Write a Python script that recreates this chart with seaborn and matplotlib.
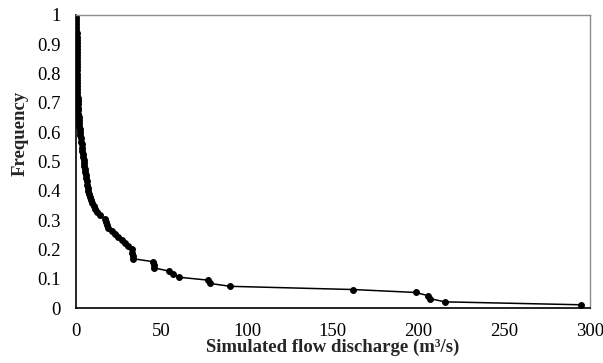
import numpy as np
import pandas as pd
import matplotlib
matplotlib.use("Agg")
import matplotlib.pyplot as plt
import seaborn as sns

# simulated discharge (m3/s), sorted high -> low
discharge = [294.8, 215.4, 206.7, 205.7, 198.3, 161.9, 89.9, 78.2, 77.2, 60.1,
             56.8, 54.3, 45.5, 45.3, 45.1, 33.5, 33.2, 32.8, 32.5, 30.5,
             28.5, 27.0, 24.5, 22.5, 21.0, 18.5, 18.0, 17.5, 16.9, 14.0,
             12.0, 11.0, 10.5, 9.5, 8.5, 8.0, 7.5, 7.2, 6.9, 6.6,
             6.3, 6.0, 5.8, 5.5, 5.2, 4.9, 4.6, 4.4, 4.2, 4.0,
             3.8, 3.6, 3.3, 3.1, 2.8, 2.6, 2.4, 2.2, 2.0, 1.8,
             1.65, 1.5, 1.35, 1.2, 1.1, 1.0, 0.95, 0.9, 0.85, 0.8,
             0.78, 0.76, 0.73, 0.70, 0.68, 0.65, 0.63, 0.60, 0.58, 0.55,
             0.53, 0.50, 0.48, 0.45, 0.43, 0.40, 0.38, 0.35, 0.33, 0.30,
             0.28, 0.25, 0.23, 0.20, 0.18]

# exceedance frequency
frequency = [0.011, 0.021, 0.032, 0.042, 0.053, 0.063, 0.074, 0.084, 0.095, 0.105,
             0.116, 0.126, 0.137, 0.147, 0.158, 0.168, 0.179, 0.189, 0.200, 0.211,
             0.221, 0.232, 0.242, 0.253, 0.263, 0.274, 0.284, 0.295, 0.305, 0.316,
             0.326, 0.337, 0.347, 0.358, 0.368, 0.379, 0.389, 0.400, 0.411, 0.421,
             0.432, 0.442, 0.453, 0.463, 0.474, 0.484, 0.495, 0.505, 0.516, 0.526,
             0.537, 0.547, 0.558, 0.568, 0.579, 0.589, 0.600, 0.611, 0.621, 0.632,
             0.642, 0.653, 0.663, 0.674, 0.684, 0.695, 0.705, 0.716, 0.726, 0.737,
             0.747, 0.758, 0.768, 0.779, 0.789, 0.800, 0.811, 0.821, 0.832, 0.842,
             0.853, 0.863, 0.874, 0.884, 0.895, 0.905, 0.916, 0.926, 0.937, 0.947,
             0.958, 0.968, 0.979, 0.989, 1.000]

x_ticks = [0, 50, 100, 150, 200, 250, 300]
y_ticks = [0, 0.1, 0.2, 0.3, 0.4, 0.5, 0.6, 0.7, 0.8, 0.9, 1]
y_tick_labels = ["0", "0.1", "0.2", "0.3", "0.4", "0.5", "0.6", "0.7", "0.8", "0.9", "1"]

df = pd.DataFrame({"discharge": discharge, "frequency": frequency})

sns.set_style("white")
plt.rcParams['font.family'] = ['Liberation Serif', 'DejaVu Serif']

fig = plt.figure(figsize=(6.03, 3.63), dpi=100)
ax = fig.add_axes([0.126, 0.1515, 0.852, 0.8075])

sns.lineplot(data=df, x="discharge", y="frequency", sort=False, estimator=None,
             color="black", linewidth=1.1, marker="o", markersize=4.2,
             markeredgecolor="black", ax=ax)

ax.set_xlim(0, 300)
ax.set_ylim(0, 1)
ax.set_xticks(x_ticks)
ax.set_xticklabels([str(t) for t in x_ticks])
ax.set_yticks(y_ticks)
ax.set_yticklabels(y_tick_labels)

ax.tick_params(axis="both", direction="in", length=4, width=0.8, color="#8c8c8c",
               labelsize=13.5, pad=10.5, labelcolor="black")
ax.tick_params(axis="y", pad=11)

for side in ["top", "right"]:
    ax.spines[side].set_color("#8c8c8c")
    ax.spines[side].set_linewidth(1.0)
for side in ["left", "bottom"]:
    ax.spines[side].set_color("black")
    ax.spines[side].set_linewidth(1.2)

ax.set_xlabel("Simulated flow discharge (m³/s)", fontsize=13.5, fontweight="bold")
ax.set_ylabel("Frequency", fontsize=13.5, fontweight="bold")
ax.xaxis.set_label_coords(0.5, -0.105)
ax.yaxis.set_label_coords(-0.092, 0.597)

fig.savefig("out.png", dpi=100, facecolor="white")
